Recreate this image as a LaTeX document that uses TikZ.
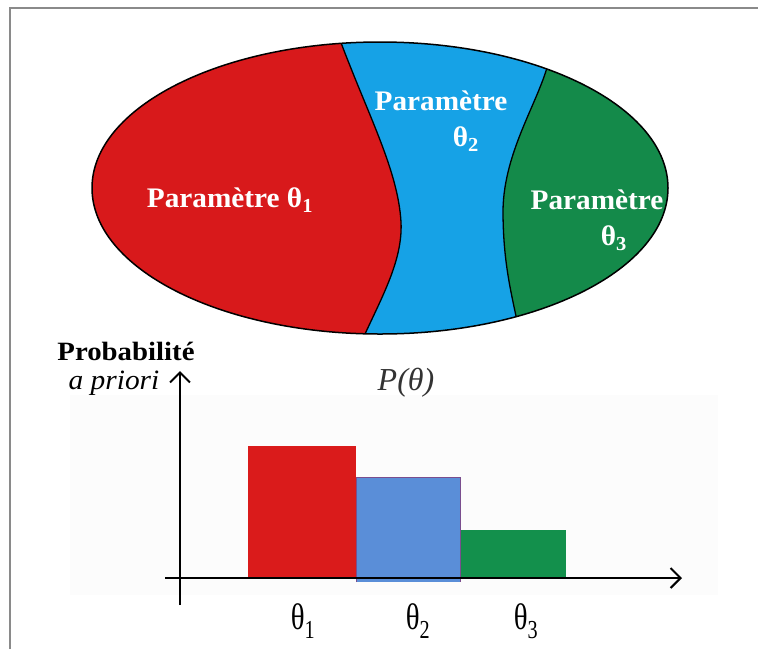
\documentclass[tikz,border=0pt]{standalone}
\usepackage{fontspec}
\setmainfont{Liberation Serif}
\usetikzlibrary{arrows.meta}
\definecolor{rd}{HTML}{D8191B}
\definecolor{bl}{HTML}{16A2E6}
\definecolor{gr}{HTML}{148A4A}
\definecolor{bred}{HTML}{DA1B1B}
\definecolor{bblue}{HTML}{5A8ED8}
\definecolor{bgreen}{HTML}{13904C}
\definecolor{bborder}{HTML}{7A4E8E}
\definecolor{frame}{HTML}{8A8A8A}
\newcommand{\sbs}[1]{\textsubscript{#1}}
\tikzset{
  lbl/.style={text=white, font=\fontsize{24}{26}\selectfont\bfseries, inner sep=0pt, xscale=1.22, yscale=1.18, align=center},
  axis/.style={line width=2pt, -{Straight Barb[length=10pt,width=20pt,line width=2pt]}},
  tlbl/.style={font=\fontsize{37}{38}\selectfont, inner sep=0pt, xscale=0.78}
}
\begin{document}
\begin{tikzpicture}[x=1pt,y=-1pt]
\useasboundingbox (0,0) rectangle (758,649);
\fill[white] (0,0) rectangle (758,649);
% frame
\draw[frame, line width=2pt] (10,649) -- (10,8) -- (758,8);
% ellipse regions
\begin{scope}
  \clip (380,188) ellipse [x radius=288, y radius=146];
  \fill[bl] (60,20) rectangle (700,360);
  \fill[rd] (60,20) -- (337,20) -- (340,40) .. controls (368,115) and (398,170) .. (401,222)
     .. controls (403,262) and (380,300) .. (360,345) -- (60,345) -- cycle;
  \fill[gr] (700,20) -- (560,20) -- (549,60) .. controls (540,100) and (504,150) .. (503,210)
     .. controls (503,262) and (511,292) .. (519,330) -- (700,330) -- cycle;
  \draw[line width=1.3pt] (337,20) -- (340,40) .. controls (368,115) and (398,170) .. (401,222)
     .. controls (403,262) and (380,300) .. (360,345);
  \draw[line width=1.3pt] (560,20) -- (549,60) .. controls (540,100) and (504,150) .. (503,210)
     .. controls (503,262) and (511,292) .. (519,330);
\end{scope}
\draw[line width=1.5pt] (380,188) ellipse [x radius=288, y radius=146];
\node[lbl] (p1) at (230,200) {Paramètre θ\sbs{1}};
\node[lbl] (p2a) at (441,101) {Paramètre};
\node[lbl] (p2b) at (466,139) {θ\sbs{2}};
\node[lbl] (p3a) at (597,200) {Paramètre};
\node[lbl] (p3b) at (614,238) {θ\sbs{3}};
% chart background
\fill[black!1.2] (70,395) rectangle (718,595);
% bars
\fill[bred] (248,446) rectangle (356,578);
\fill[bblue] (356,477) rectangle (460,582);
\draw[bborder, line width=1pt] (356,582) -- (356,477) -- (460,477) -- (460,582);
\fill[bgreen] (461,530) rectangle (566,578);
% axes
\coordinate (yb) at (180,605);
\coordinate (yt) at (180,371);
\coordinate (xl) at (165,578);
\coordinate (xr) at (682,578);
\draw[axis] (yb) -- (yt);
\draw[axis] (xl) -- (xr);
% labels
\node[font=\fontsize{24}{26}\selectfont\bfseries, inner sep=0pt, xscale=1.2, yscale=1.1] (prob) at (126,351) {Probabilité};
\node[font=\fontsize{28}{30}\selectfont\itshape, inner sep=0pt, xscale=1.05] (apr) at (114,383) {a priori};
\node[font=\fontsize{32}{34}\selectfont\itshape, inner sep=0pt, text=black!80] (pt) at (406,383) {P(θ)};
\node[tlbl] (t1) at (303,621) {θ\sbs{1}};
\node[tlbl] (t2) at (418,621) {θ\sbs{2}};
\node[tlbl] (t3) at (526,621) {θ\sbs{3}};
\end{tikzpicture}
\end{document}
